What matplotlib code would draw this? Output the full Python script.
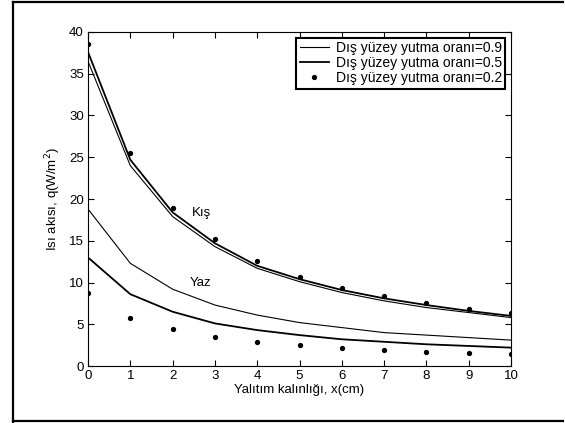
import matplotlib.pyplot as plt
from matplotlib.lines import Line2D
import numpy as np

plt.rcParams['font.family'] = ['Liberation Sans', 'DejaVu Sans']

x = np.arange(0, 11)

# Kış (winter)
kis_09 = [36.5, 24.0, 17.9, 14.3, 11.7, 10.1, 8.8, 7.8, 7.0, 6.4, 5.8]
kis_05 = [37.6, 24.7, 18.4, 14.7, 12.0, 10.4, 9.1, 8.1, 7.3, 6.6, 6.0]
kis_02 = [38.6, 25.5, 18.9, 15.2, 12.6, 10.7, 9.4, 8.4, 7.5, 6.8, 6.3]

# Yaz (summer)
yaz_09 = [18.8, 12.3, 9.2, 7.3, 6.1, 5.2, 4.6, 4.0, 3.7, 3.4, 3.1]
yaz_05 = [13.0, 8.6, 6.5, 5.1, 4.3, 3.7, 3.2, 2.9, 2.6, 2.4, 2.2]
yaz_02 = [8.8, 5.8, 4.4, 3.5, 2.9, 2.5, 2.1, 1.9, 1.7, 1.6, 1.4]

fig = plt.figure(figsize=(5.65, 4.23), dpi=100)
ax = fig.add_axes([88/565, 57/423, 423/565, 334/423])

l1, = ax.plot(x, kis_09, color='black', lw=0.8)
l2, = ax.plot(x, kis_05, color='black', lw=1.3)
l3, = ax.plot(x, kis_02, 'o', color='black', ms=2.8, ls='none')
ax.plot(x, yaz_09, color='black', lw=0.8)
ax.plot(x, yaz_05, color='black', lw=1.3)
ax.plot(x, yaz_02, 'o', color='black', ms=2.8, ls='none')

ax.text(2.45, 18.3, "Kış", fontsize=9.5, va='center')
ax.text(2.4, 9.9, "Yaz", fontsize=9.5, va='center')

ax.set_xlim(0, 10)
ax.set_ylim(0, 40)
ax.set_xticks(range(0, 11))
ax.set_yticks(range(0, 41, 5))
ax.tick_params(direction='in', top=True, right=True, labelsize=9.5, length=4, pad=3)
ax.set_xlabel("Yalıtım kalınlığı, x(cm)", fontsize=9.5, labelpad=1)
ax.set_ylabel(r"Isı akısı, q(W/m$^2$)", fontsize=9.5, labelpad=4)

leg = ax.legend([l1, l2, l3],
                ["Dış yüzey yutma oranı=0.9",
                 "Dış yüzey yutma oranı=0.5",
                 "Dış yüzey yutma oranı=0.2"],
                loc='upper right', fontsize=10, fancybox=False, framealpha=1,
                borderaxespad=0.4, handlelength=2.1, borderpad=0.25,
                labelspacing=0.08, handletextpad=0.5)
leg.get_frame().set_edgecolor('black')
leg.get_frame().set_linewidth(1.5)

# outer frame
for xs, ys in [([13/565, 13/565], [1/423, 421/423]),
               ([13/565, 563/565], [421/423, 421/423]),
               ([13/565, 563/565], [2/423, 2/423])]:
    fig.add_artist(Line2D(xs, ys, transform=fig.transFigure, color='black', lw=1.6))

fig.savefig("out.png", dpi=100)
